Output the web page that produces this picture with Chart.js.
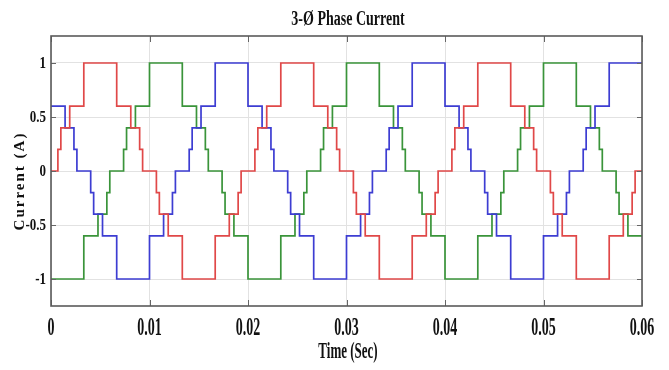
<!DOCTYPE html>
<html>
<head>
<meta charset="utf-8">
<script src="https://cdn.jsdelivr.net/npm/chart.js@4.4.1/dist/chart.umd.min.js"></script>
<style>
  html, body { margin: 0; padding: 0; background: #fff; }
  #wrap { width: 669px; height: 370px; }
</style>
</head>
<body>
<div id="wrap"><canvas id="phaseChart" width="669" height="370"></canvas></div>
<script>
// Switching instants (s) and current levels, one list per phase
const redTimes = [
    0, 0.0007, 0.001, 0.0019, 0.00333, 0.00667, 0.0081, 0.009, 0.0093, 0.0107, 0.011, 0.0119, 0.01333, 0.01667, 0.0181, 0.019, 0.0193,
    0.0207, 0.021, 0.0219, 0.02333, 0.02667, 0.0281, 0.029, 0.0293, 0.0307, 0.031, 0.0319, 0.03333, 0.03667, 0.0381, 0.039, 0.0393,
    0.0407, 0.041, 0.0419, 0.04333, 0.04667, 0.0481, 0.049, 0.0493, 0.0507, 0.051, 0.0519, 0.05333, 0.05667, 0.0581, 0.059, 0.0593, 0.06
];
const redLevels = [
    0, 0.2, 0.4, 0.6, 1, 0.6, 0.4, 0.2, 0, -0.2, -0.4, -0.6, -1, -0.6, -0.4, -0.2, 0,
    0.2, 0.4, 0.6, 1, 0.6, 0.4, 0.2, 0, -0.2, -0.4, -0.6, -1, -0.6, -0.4, -0.2, 0,
    0.2, 0.4, 0.6, 1, 0.6, 0.4, 0.2, 0, -0.2, -0.4, -0.6, -1, -0.6, -0.4, -0.2, 0, 0
];

const blueTimes = [
    0, 0.00143, 0.00233, 0.00263, 0.00403, 0.00433, 0.00523, 0.00667, 0.01, 0.01143, 0.01233, 0.01263, 0.01403, 0.01433, 0.01523, 0.01667,
    0.02, 0.02143, 0.02233, 0.02263, 0.02403, 0.02433, 0.02523, 0.02667, 0.03, 0.03143, 0.03233, 0.03263, 0.03403, 0.03433, 0.03523, 0.03667,
    0.04, 0.04143, 0.04233, 0.04263, 0.04403, 0.04433, 0.04523, 0.04667, 0.05, 0.05143, 0.05233, 0.05263, 0.05403, 0.05433, 0.05523, 0.05667, 0.06
];
const blueLevels = [
    0.6, 0.4, 0.2, 0, -0.2, -0.4, -0.6, -1, -0.6, -0.4, -0.2, 0, 0.2, 0.4, 0.6, 1,
    0.6, 0.4, 0.2, 0, -0.2, -0.4, -0.6, -1, -0.6, -0.4, -0.2, 0, 0.2, 0.4, 0.6, 1,
    0.6, 0.4, 0.2, 0, -0.2, -0.4, -0.6, -1, -0.6, -0.4, -0.2, 0, 0.2, 0.4, 0.6, 1, 1
];

const greenTimes = [
    0, 0.00333, 0.00477, 0.00567, 0.00597, 0.00737, 0.00767, 0.00857, 0.01, 0.01333, 0.01477, 0.01567, 0.01597, 0.01737, 0.01767, 0.01857,
    0.02, 0.02333, 0.02477, 0.02567, 0.02597, 0.02737, 0.02767, 0.02857, 0.03, 0.03333, 0.03477, 0.03567, 0.03597, 0.03737, 0.03767, 0.03857,
    0.04, 0.04333, 0.04477, 0.04567, 0.04597, 0.04737, 0.04767, 0.04857, 0.05, 0.05333, 0.05477, 0.05567, 0.05597, 0.05737, 0.05767, 0.05857, 0.06
];
const greenLevels = [
    -1, -0.6, -0.4, -0.2, 0, 0.2, 0.4, 0.6, 1, 0.6, 0.4, 0.2, 0, -0.2, -0.4, -0.6,
    -1, -0.6, -0.4, -0.2, 0, 0.2, 0.4, 0.6, 1, 0.6, 0.4, 0.2, 0, -0.2, -0.4, -0.6,
    -1, -0.6, -0.4, -0.2, 0, 0.2, 0.4, 0.6, 1, 0.6, 0.4, 0.2, 0, -0.2, -0.4, -0.6, -0.6
];

const xTicks = [0, 0.01, 0.02, 0.03, 0.04, 0.05, 0.06];
const xTickLabels = ['0', '0.01', '0.02', '0.03', '0.04', '0.05', '0.06'];
const yTicks = [-1, -0.5, 0, 0.5, 1];
const yTickLabels = ['-1', '-0.5', '0', '0.5', '1'];

const toPoints = (times, levels) => times.map((t, i) => ({ x: t, y: levels[i] }));

const SERIF = '"Liberation Serif", "Times New Roman", serif';

// draw text squeezed like the original (tall, narrow glyphs)
function tallText(ctx, text, x, y, size, sy, align) {
    ctx.save();
    ctx.font = 'bold ' + size + 'px ' + SERIF;
    ctx.textAlign = align;
    ctx.textBaseline = 'middle';
    ctx.fillStyle = '#111';
    ctx.translate(x, y);
    ctx.scale(1, sy);
    ctx.fillText(text, 0, 0);
    ctx.restore();
}

const frame = {
    id: 'frame',
    afterDatasetsDraw(chart) {
        const { ctx, chartArea: a, scales } = chart;
        ctx.save();
        // inward tick marks on all four sides
        ctx.strokeStyle = '#666';
        ctx.lineWidth = 1;
        ctx.beginPath();
        xTicks.forEach(v => {
            const px = Math.round(scales.x.getPixelForValue(v)) + 0.5;
            ctx.moveTo(px, a.top); ctx.lineTo(px, a.top + 6);
            ctx.moveTo(px, a.bottom); ctx.lineTo(px, a.bottom - 6);
        });
        yTicks.forEach(v => {
            const py = Math.round(scales.y.getPixelForValue(v)) + 0.5;
            ctx.moveTo(a.left, py); ctx.lineTo(a.left + 5, py);
            ctx.moveTo(a.right, py); ctx.lineTo(a.right - 5, py);
        });
        ctx.stroke();
        // axes box
        ctx.strokeStyle = '#5a5a5a';
        ctx.lineWidth = 1.6;
        ctx.strokeRect(a.left, a.top, a.right - a.left, a.bottom - a.top);
        ctx.restore();
    },
    afterDraw(chart) {
        const { ctx, scales } = chart;
        xTicks.forEach((v, i) => {
            tallText(ctx, xTickLabels[i], scales.x.getPixelForValue(v), 329, 14, 1.75, 'center');
        });
        yTicks.forEach((v, i) => {
            tallText(ctx, yTickLabels[i], 46, scales.y.getPixelForValue(v) + 1, 13, 1.3, 'right');
        });
        tallText(ctx, '3-Ø Phase Current', 348, 19, 14, 1.55, 'center');
        tallText(ctx, 'Time (Sec)', 348, 352, 13, 1.7, 'center');

        ctx.save();
        ctx.translate(20, 181);
        ctx.rotate(-Math.PI / 2);
        ctx.font = 'bold 15px ' + SERIF;
        ctx.letterSpacing = '2px';
        ctx.textAlign = 'center';
        ctx.textBaseline = 'middle';
        ctx.fillStyle = '#111';
        ctx.fillText('Current (A)', 0, 0);
        ctx.restore();
    }
};

const lineStyle = color => ({
    borderColor: color,
    borderWidth: 1.7,
    stepped: true,
    pointRadius: 0,
    fill: false
});

new Chart(document.getElementById('phaseChart'), {
    type: 'line',
    data: {
        datasets: [
            { label: 'Phase A', data: toPoints(redTimes, redLevels), ...lineStyle('#e04848') },
            { label: 'Phase B', data: toPoints(blueTimes, blueLevels), ...lineStyle('#3d3dd2') },
            { label: 'Phase C', data: toPoints(greenTimes, greenLevels), ...lineStyle('#3a943a') }
        ]
    },
    options: {
        responsive: false,
        animation: false,
        devicePixelRatio: 1,
        layout: { padding: { left: 51, right: 27, top: 36, bottom: 64 } },
        plugins: {
            legend: { display: false },
            tooltip: { enabled: false }
        },
        scales: {
            x: {
                type: 'linear',
                min: 0,
                max: 0.06,
                afterBuildTicks: s => { s.ticks = xTicks.map(v => ({ value: v })); },
                afterFit: s => { s.height = 0; },
                ticks: { display: false },
                border: { display: false },
                grid: { color: '#e2e2e2', drawTicks: false }
            },
            y: {
                min: -1.25,
                max: 1.25,
                afterBuildTicks: s => { s.ticks = yTicks.map(v => ({ value: v })); },
                afterFit: s => { s.width = 0; },
                ticks: { display: false },
                border: { display: false },
                grid: { color: '#e2e2e2', drawTicks: false }
            }
        }
    },
    plugins: [frame]
});
</script>
</body>
</html>
